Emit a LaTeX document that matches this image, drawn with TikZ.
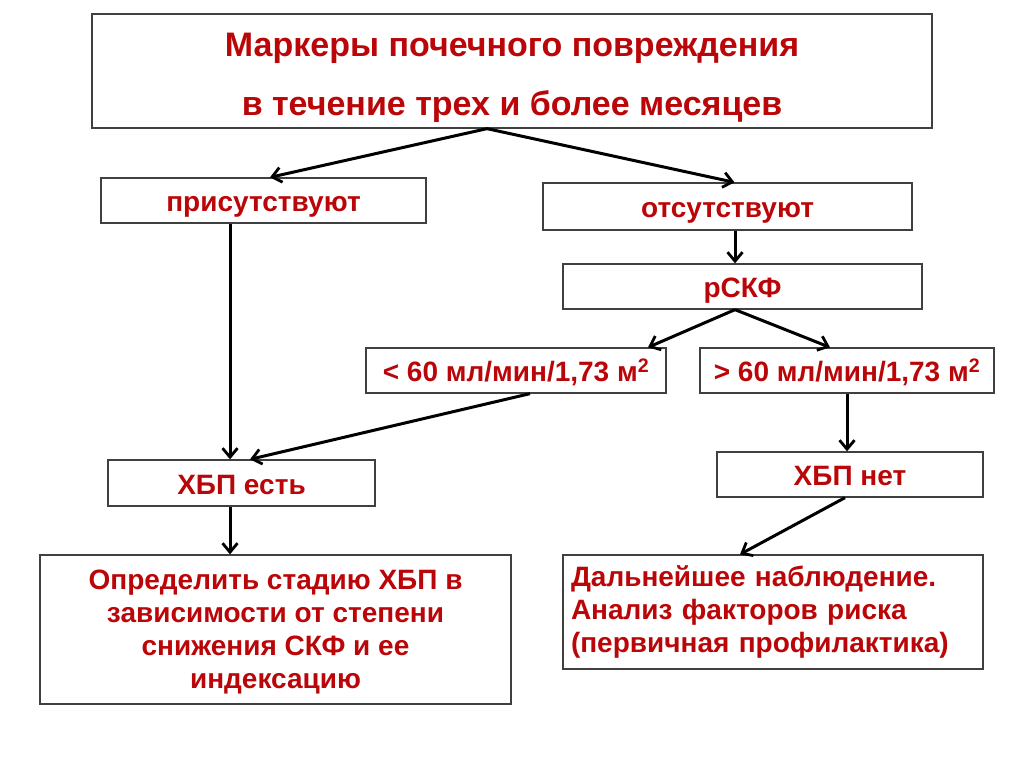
\documentclass[tikz,border=0pt]{standalone}
\usepackage{fontspec}
\setmainfont{Liberation Sans}
\usepackage{tikz}
\usetikzlibrary{arrows.meta}
\definecolor{ckdred}{RGB}{186,6,8}
\tikzset{
  ckdbox/.style={
    rectangle,
    draw=black!75,
    line width=1.3pt,
    align=center,
    inner sep=4pt,
    text=ckdred,
    font=\fontsize{28}{33}\selectfont\bfseries
  },
  ckdline/.style={
    ckdbox,
    text height=24pt,
    text depth=2pt
  },
  ckdarrow/.style={
    -{Straight Barb[length=9pt,width=15pt,line width=2.8pt]},
    line width=3pt,
    draw=black
  }
}

\begin{document}
\begin{tikzpicture}[x=1pt,y=-1pt]
\useasboundingbox (0,0) rectangle (1024,767);
\node[ckdbox, minimum width=840, minimum height=114, text depth=-5pt,
      font=\fontsize{34}{59}\selectfont\bfseries] (markers) at (512,71)
      {\rule{0pt}{31pt}Маркеры почечного повреждения\\в течение трех и более месяцев};
\node[ckdline, minimum width=325, minimum height=45] (present) at (263.5,200.5) {присутствуют};
\node[ckdline, minimum width=369, minimum height=47] (absent) at (727.5,206.5) {отсутствуют};
\node[ckdline, minimum width=359, minimum height=45] (gfr) at (742.5,286.5) {рСКФ};
\node[ckdline, minimum width=300, minimum height=45] (low) at (516,370.5) {< 60 мл/мин/1,73 м\textsuperscript{2}};
\node[ckdline, minimum width=294, minimum height=45] (high) at (847,370.5) {> 60 мл/мин/1,73 м\textsuperscript{2}};
\node[ckdline, minimum width=267, minimum height=46] (ckdyes) at (241.5,483) {ХБП есть};
\node[ckdline, minimum width=266, minimum height=45] (ckdno) at (850,474.5) {ХБП нет};
\node[ckdbox, minimum width=471, minimum height=149, text depth=-1pt] (stage) at (275.5,629.5)
      {Определить стадию ХБП в\\зависимости от степени\\снижения СКФ и ее\\индексацию};
\node[ckdbox, minimum width=420, minimum height=114, align=left, text width=404] (follow) at (773,612)
      {Дальнейшее наблюдение.\\Анализ факторов риска\\(первичная профилактика)};

\draw[ckdarrow] ([xshift=-25]markers.south) -- ([xshift=6.5]present.north);
\draw[ckdarrow] ([xshift=-25]markers.south) -- ([xshift=7]absent.north);
\draw[ckdarrow] ([xshift=-33.5]present.south) -- ([xshift=-11.5]ckdyes.north);
\draw[ckdarrow] ([xshift=7.5]absent.south) -- ([xshift=-7.5]gfr.north);
\draw[ckdarrow] ([xshift=-7.5]gfr.south) -- ([xshift=132]low.north);
\draw[ckdarrow] ([xshift=-7.5]gfr.south) -- ([xshift=-17]high.north);
\draw[ckdarrow] ([xshift=14]low.south) -- ([xshift=8.5]ckdyes.north);
\draw[ckdarrow] (high.south) -- (high.south |- ckdno.north);
\draw[ckdarrow] ([xshift=-11.5]ckdyes.south) -- ([xshift=-11.5]ckdyes.south |- stage.north);
\draw[ckdarrow] ([xshift=-5]ckdno.south) -- ([xshift=-33]follow.north);
\end{tikzpicture}
\end{document}
